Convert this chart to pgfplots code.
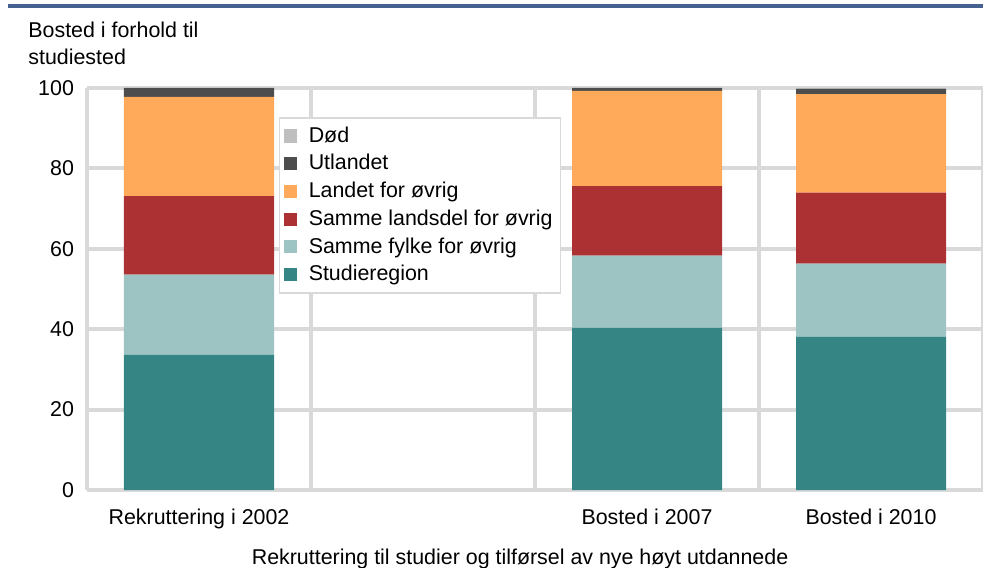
\documentclass[border=0pt]{standalone}
\usepackage{fontspec}
\setmainfont{Liberation Sans}
\usepackage{pgfplots}
\pgfplotsset{compat=1.18}
\definecolor{cteal}{HTML}{358585}
\definecolor{clteal}{HTML}{9DC3C3}
\definecolor{cred}{HTML}{AC3133}
\definecolor{corange}{HTML}{FFAA5B}
\definecolor{cdark}{HTML}{4D4D4D}
\definecolor{cgray}{HTML}{BFBFBF}
\definecolor{gridgray}{HTML}{D9D9D9}
\definecolor{topblue}{HTML}{44618F}
\begin{document}
\begin{tikzpicture}
\useasboundingbox (-43.5pt,-38.5pt) rectangle (448pt,245pt);
\draw[topblue, line width=1.6pt] (-39.5pt,242pt) -- (448pt,242pt);
\node[anchor=base west, inner sep=0pt, font=\fontsize{10.7}{12}\selectfont] at (-29.5pt,226pt) {Bosted i forhold til};
\node[anchor=base west, inner sep=0pt, font=\fontsize{10.7}{12}\selectfont] at (-29.5pt,212.5pt) {studiested};
\begin{axis}[
  at={(0,0)}, anchor=south west,
  scale only axis, width=448pt, height=201pt,
  ybar stacked, bar width=75pt,
  xmin=-0.5, xmax=3.5, ymin=0, ymax=100,
  xtick={0,2,3},
  xticklabels={Rekruttering i 2002, Bosted i 2007, Bosted i 2010},
  minor xtick={-0.5,0.5,1.5,2.5,3.5},
  ytick={0,20,...,100},
  major tick length=0pt, minor tick length=0pt,
  ymajorgrids, xminorgrids,
  grid style={draw=gridgray, line width=2pt},
  minor grid style={draw=gridgray, line width=2pt},
  axis x line*=bottom, axis y line*=left,
  axis line style={draw=gridgray, line width=2pt},
  tick label style={font=\fontsize{10.7}{12}\selectfont},
  /pgf/number format/assume math mode=true,
  yticklabel style={xshift=-3pt},
  xticklabel style={yshift=-6pt},
  xlabel={Rekruttering til studier og tilførsel av nye høyt utdannede},
  xlabel style={font=\fontsize{10.7}{12}\selectfont, at={(axis description cs:0.4833,0)}, yshift=-26pt},
  reverse legend,
  legend cell align=left,
  legend style={at={(0.214,0.928)}, anchor=north west, draw=gridgray, line width=0.8pt,
    font=\fontsize{10.7}{12}\selectfont, row sep=0.6pt, inner xsep=2pt, inner ysep=2.5pt,
    /tikz/every odd column/.append style={column sep=4pt}},
  legend image code/.code={\fill[#1] (0pt,-3.3pt) rectangle (6.6pt,3.3pt);},
]
\addplot[fill=cteal, draw=none] coordinates {(0,33.6) (2,40.3) (3,38.1)};
\addplot[fill=clteal, draw=none] coordinates {(0,20.0) (2,18.0) (3,18.2)};
\addplot[fill=cred, draw=none] coordinates {(0,19.5) (2,17.3) (3,17.7)};
\addplot[fill=corange, draw=none] coordinates {(0,24.7) (2,23.7) (3,24.5)};
\addplot[fill=cdark, draw=none] coordinates {(0,2.2) (2,0.7) (3,1.3)};
\addplot[fill=cgray, draw=none] coordinates {(0,0.0) (2,0.0) (3,0.3)};
\legend{Studieregion, Samme fylke for øvrig, Samme landsdel for øvrig, Landet for øvrig, Utlandet, Død}
\end{axis}
\end{tikzpicture}
\end{document}
